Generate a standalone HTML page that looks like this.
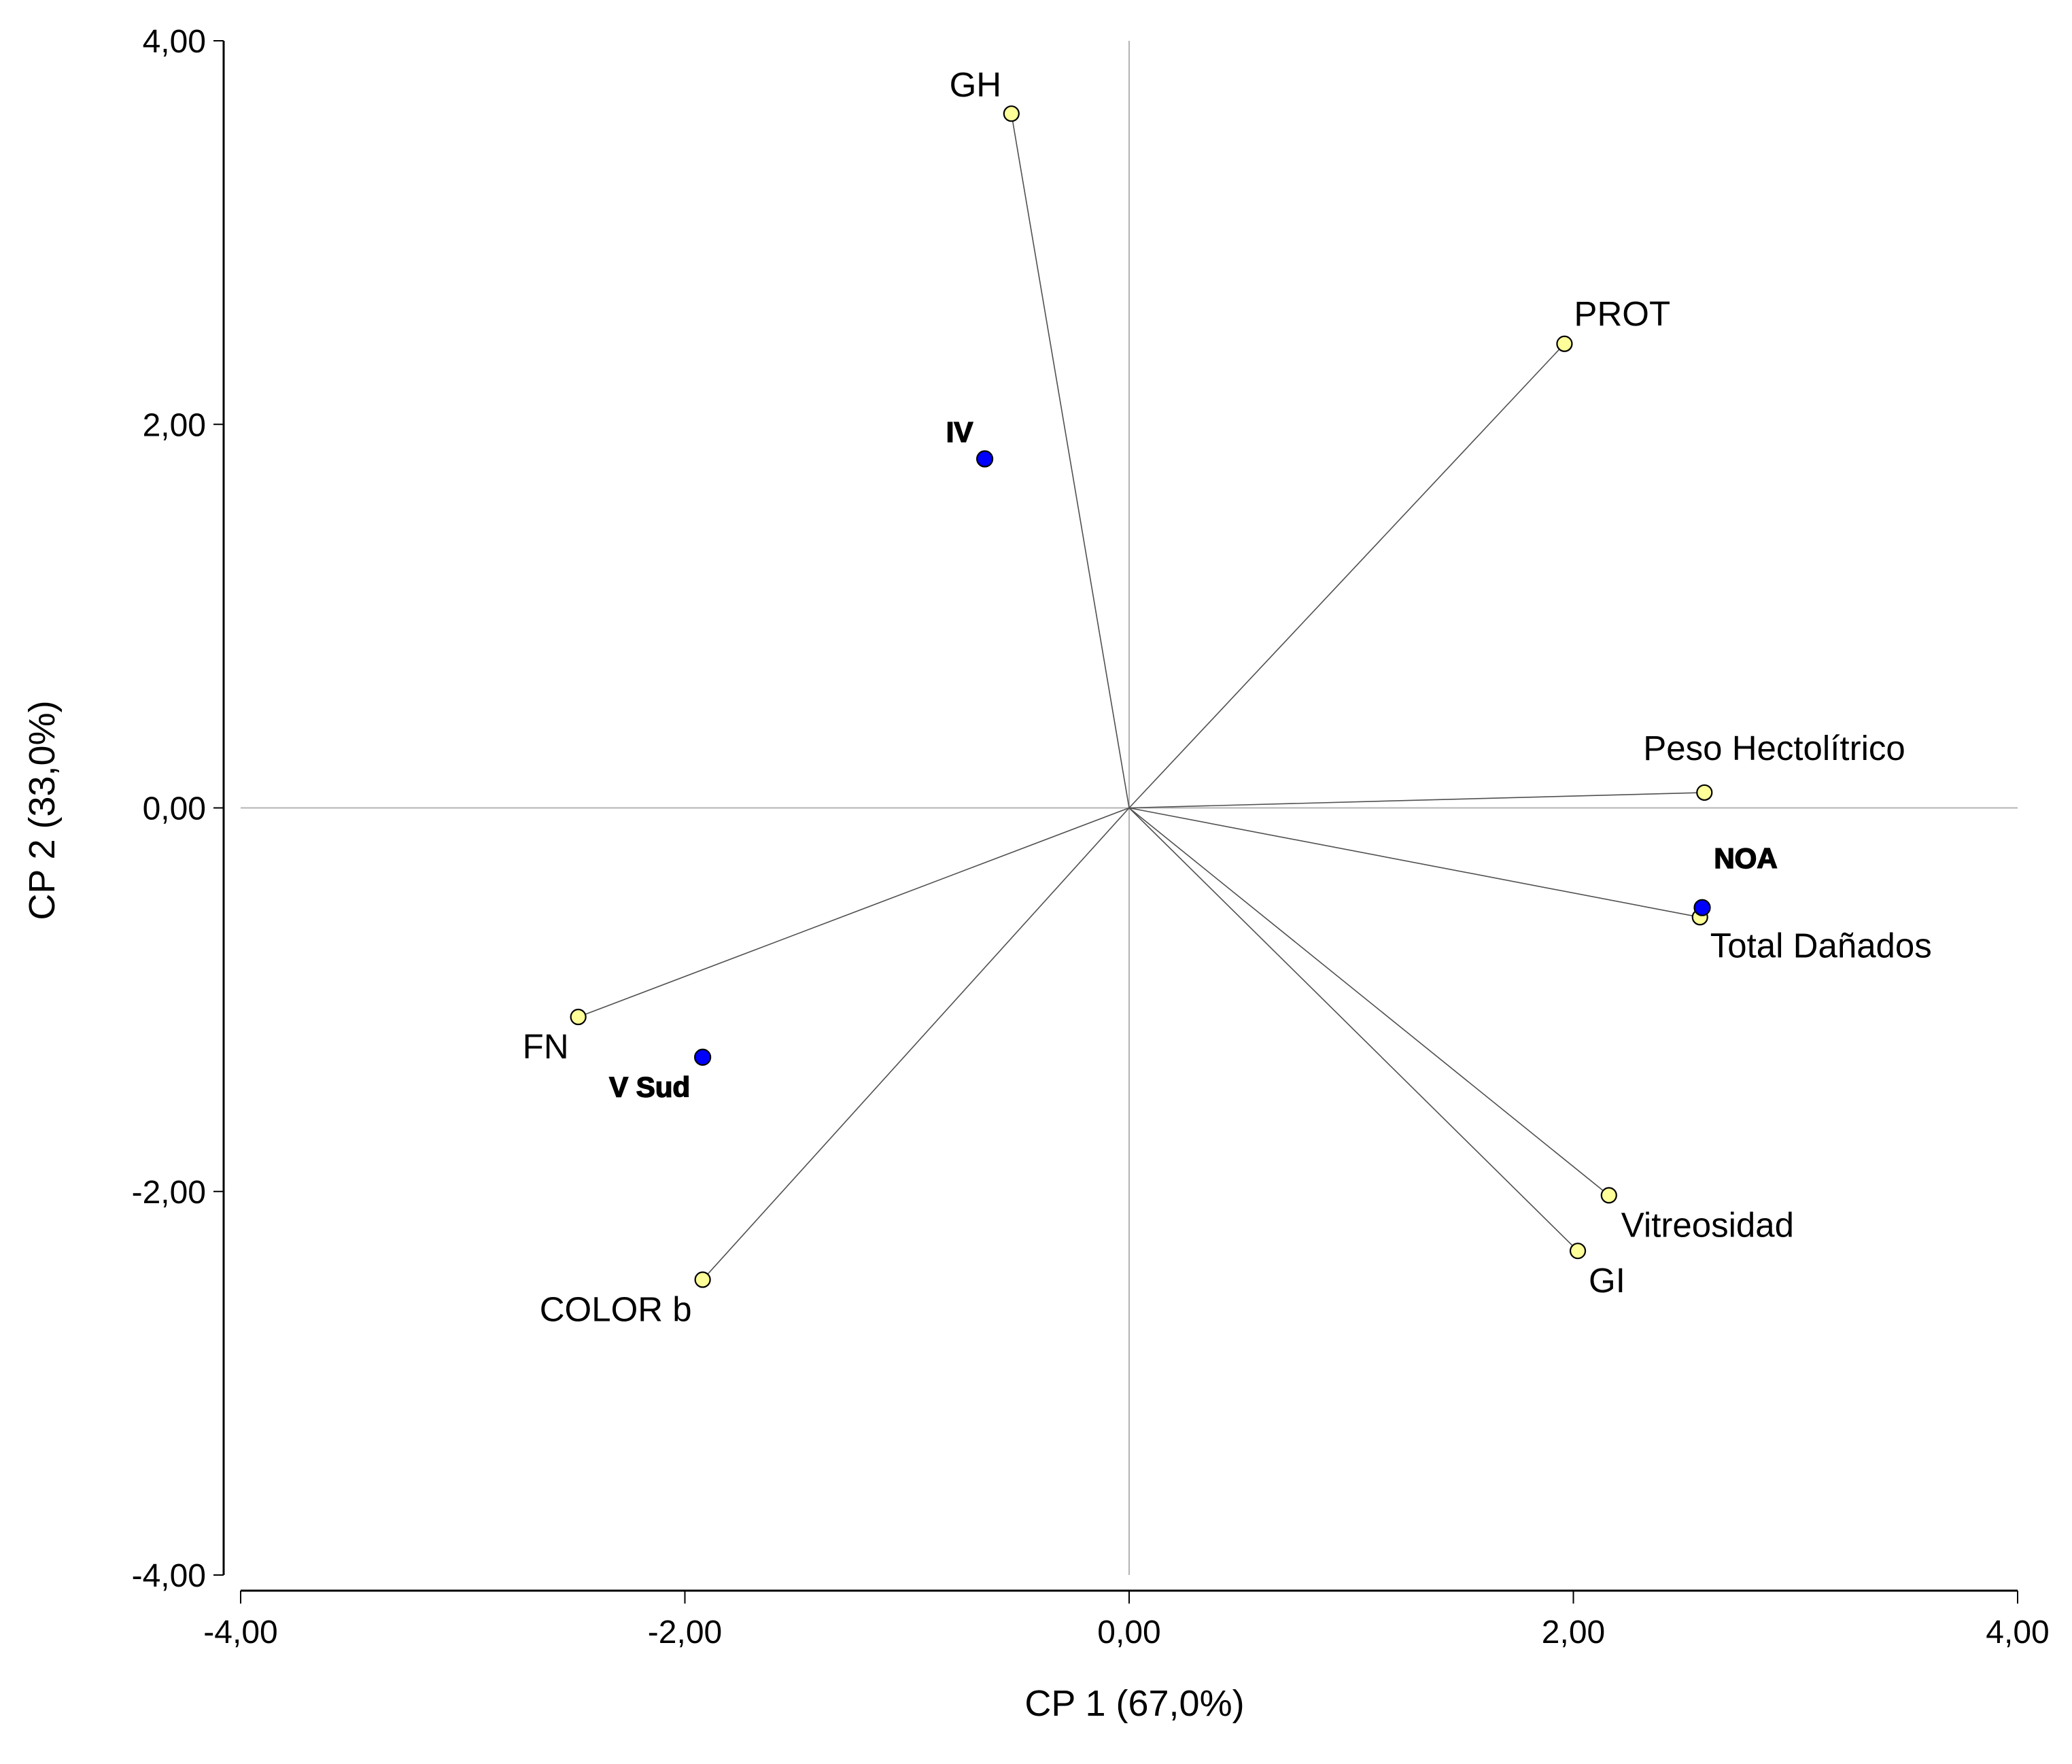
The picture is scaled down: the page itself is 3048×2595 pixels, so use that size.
<!DOCTYPE html>
<html><head><meta charset="utf-8"><style>
html,body{margin:0;padding:0;background:#fff;}
svg{display:block;font-family:"Liberation Sans",Arial,sans-serif;}
</style></head><body>
<svg id="chart" width="3048" height="2595" viewBox="0 0 3048 2595" xmlns="http://www.w3.org/2000/svg">
<g id="grid"></g><g id="axes"></g><g id="vectors"></g><g id="pts"></g><g id="labels"></g>
</svg>
<script>
const varNames = ["GH","PROT","Peso Hectolítrico","Total Dañados","Vitreosidad","GI","COLOR b","FN"];
const varX = [-0.53, 1.96, 2.59, 2.57, 2.16, 2.02, -1.92, -2.48];
const varY = [3.62, 2.42, 0.08, -0.57, -2.02, -2.31, -2.46, -1.09];
const grpNames = ["IV","V Sud","NOA"];
const grpX = [-0.65, -1.92, 2.58];
const grpY = [1.82, -1.30, -0.52];
const tickVals = [-4, -2, 0, 2, 4];
const tickLabels = ["-4,00","-2,00","0,00","2,00","4,00"];

const NS="http://www.w3.org/2000/svg";
const X0=354, X1=2968, Y0=2317, Y1=60;
function sx(v){return X0+(v+4)/8*(X1-X0);}
function sy(v){return Y0-(v+4)/8*(Y0-Y1);}
function mk(parent,tag,attrs,text){const e=document.createElementNS(NS,tag);for(const k in attrs)e.setAttribute(k,attrs[k]);if(text!==undefined)e.textContent=text;document.getElementById(parent).appendChild(e);return e;}

let e=mk('grid','line',{x1:sx(0),x2:sx(0),y1:Y1,y2:Y0,stroke:'#b4b4b4','stroke-width':2});


e=mk('grid','line',{x1:X0,x2:X1,y1:sy(0),y2:sy(0),stroke:'#b4b4b4','stroke-width':2});



const AXY=2340, AXX=329;
e=mk('axes','line',{x1:X0,x2:X1,y1:AXY,y2:AXY,stroke:'#000','stroke-width':3});


e=mk('axes','line',{x1:AXX,x2:AXX,y1:Y1,y2:Y0,stroke:'#000','stroke-width':3});


tickVals.forEach((v,i)=>{
  let t=mk('axes','line',{x1:sx(v),x2:sx(v),y1:AXY,y2:AXY+19,stroke:'#000','stroke-width':2});
  
  
  t=mk('axes','text',{x:sx(v),y:AXY+77,'font-size':48,'text-anchor':'middle'},tickLabels[i]);
  
  
  t=mk('axes','line',{x1:AXX-15,x2:AXX,y1:sy(v),y2:sy(v),stroke:'#000','stroke-width':2});
  
  
  t=mk('axes','text',{x:303,y:sy(v)+17,'font-size':48,'text-anchor':'end'},tickLabels[i]);
  
  
});
e=mk('axes','text',{x:1669,y:2524,'font-size':54,'text-anchor':'middle'},'CP 1 (67,0%)');


e=mk('axes','text',{x:0,y:0,'font-size':54,'text-anchor':'middle',transform:'translate(80,1192) rotate(-90)'},'CP 2 (33,0%)');



const varOff=[[-53,-43,'middle'],[14,-45,'start'],[-90,-66,'start'],[15,41,'start'],[18,43,'start'],[16,43,'start'],[-16,43,'end'],[-14,43,'end']];
const grpOff=[[-37,-40,'middle'],[-78,43,'middle'],[64,-73,'middle']];

varNames.forEach((n,i)=>{
  const x=sx(varX[i]), y=sy(varY[i]);
  let l=mk('vectors','line',{x1:sx(0),y1:sy(0),x2:x,y2:y,stroke:'#505050','stroke-width':1.6});
  
  
  let c=mk('pts','circle',{cx:x,cy:y,r:11,fill:'#ffff99',stroke:'#000','stroke-width':2.2});
  
  
  let t=mk('labels','text',{x:x+varOff[i][0],y:y+varOff[i][1]+18,'font-size':51,'text-anchor':varOff[i][2]},n);
  
  
});
grpNames.forEach((n,i)=>{
  const x=sx(grpX[i]), y=sy(grpY[i]);
  let c=mk('pts','circle',{cx:x,cy:y,r:11.5,fill:'#0000ff',stroke:'#000','stroke-width':2.2});
  
  
  let t=mk('labels','text',{x:x+grpOff[i][0],y:y+grpOff[i][1]+15,'font-size':42,'font-weight':'900','stroke':'#000','stroke-width':1.5,'text-anchor':grpOff[i][2]},n);
  
  
});
</script>
</body></html>
